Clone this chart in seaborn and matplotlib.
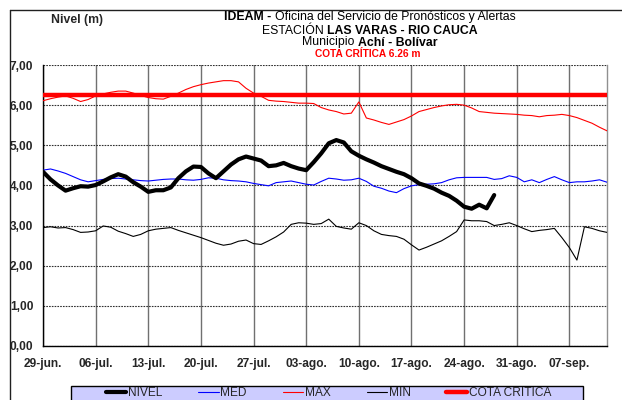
import matplotlib
matplotlib.use("Agg")
import matplotlib.pyplot as plt
from matplotlib.lines import Line2D
from matplotlib.patches import Rectangle
import seaborn as sns
import pandas as pd

# ---- data -------------------------------------------------------------
start_date = "2011-06-29"

nivel = [4.34, 4.15, 4.00, 3.87, 3.93, 3.98, 3.97, 4.01, 4.10, 4.20,
         4.28, 4.22, 4.08, 3.97, 3.84, 3.88, 3.88, 3.95, 4.18, 4.35,
         4.47, 4.46, 4.30, 4.18, 4.35, 4.52, 4.65, 4.72, 4.67, 4.62,
         4.48, 4.50, 4.56, 4.48, 4.42, 4.38, 4.58, 4.80, 5.05, 5.13,
         5.07, 4.85, 4.74, 4.65, 4.57, 4.48, 4.41, 4.34, 4.28, 4.18,
         4.05, 3.99, 3.92, 3.82, 3.74, 3.62, 3.47, 3.42, 3.52, 3.43,
         3.76]

med = [4.38, 4.41, 4.36, 4.30, 4.22, 4.14, 4.09, 4.12, 4.15, 4.17,
       4.18, 4.16, 4.14, 4.12, 4.11, 4.13, 4.15, 4.16, 4.16, 4.14,
       4.13, 4.15, 4.19, 4.18, 4.14, 4.12, 4.11, 4.09, 4.05, 4.02,
       3.99, 4.07, 4.09, 4.11, 4.07, 4.03, 4.01, 4.10, 4.18, 4.16,
       4.13, 4.14, 4.18, 4.10, 3.98, 3.93, 3.86, 3.82, 3.92, 3.99,
       4.02, 4.03, 4.04, 4.07, 4.14, 4.19, 4.20, 4.20, 4.20, 4.20,
       4.15, 4.17, 4.24, 4.20, 4.09, 4.14, 4.07, 4.15, 4.22, 4.14,
       4.07, 4.09, 4.09, 4.11, 4.14, 4.08]

maximo = [6.11, 6.16, 6.20, 6.23, 6.17, 6.09, 6.14, 6.23, 6.28, 6.32,
          6.35, 6.35, 6.30, 6.24, 6.19, 6.16, 6.15, 6.22, 6.30, 6.39,
          6.46, 6.51, 6.55, 6.58, 6.61, 6.61, 6.58, 6.42, 6.30, 6.22,
          6.12, 6.10, 6.09, 6.07, 6.05, 6.05, 6.04, 5.94, 5.88, 5.84,
          5.78, 5.80, 6.08, 5.68, 5.63, 5.57, 5.52, 5.58, 5.64, 5.73,
          5.84, 5.89, 5.94, 5.98, 6.01, 6.02, 6.00, 5.93, 5.84, 5.82,
          5.80, 5.79, 5.78, 5.77, 5.75, 5.74, 5.71, 5.74, 5.75, 5.77,
          5.74, 5.69, 5.62, 5.55, 5.45, 5.36]

minimo = [2.95, 2.97, 2.94, 2.95, 2.90, 2.83, 2.84, 2.87, 2.99, 2.96,
          2.86, 2.80, 2.73, 2.78, 2.87, 2.91, 2.93, 2.95, 2.88, 2.82,
          2.76, 2.70, 2.63, 2.56, 2.51, 2.54, 2.61, 2.64, 2.55, 2.53,
          2.62, 2.72, 2.84, 3.03, 3.07, 3.06, 3.03, 3.05, 3.16, 2.98,
          2.94, 2.91, 3.07, 3.00, 2.87, 2.78, 2.75, 2.73, 2.66, 2.52,
          2.39, 2.46, 2.54, 2.62, 2.73, 2.85, 3.14, 3.12, 3.12, 3.10,
          3.00, 3.03, 3.07, 3.00, 2.92, 2.85, 2.88, 2.90, 2.93, 2.70,
          2.45, 2.14, 2.97, 2.93, 2.87, 2.83]

cota_critica = 6.26

x_tick_labels = ["29-jun.", "06-jul.", "13-jul.", "20-jul.", "27-jul.", "03-ago.",
                 "10-ago.", "17-ago.", "24-ago.", "31-ago.", "07-sep."]
y_tick_labels = ["0,00", "1,00", "2,00", "3,00", "4,00", "5,00", "6,00", "7,00"]

# ---- frames -----------------------------------------------------------
fechas = pd.date_range(start_date, periods=len(med), freq="D")
hist = pd.DataFrame({"fecha": fechas, "MED": med, "MAX": maximo, "MIN": minimo})
obs = pd.DataFrame({"fecha": fechas[:len(nivel)], "NIVEL": nivel})

sns.set_style("white")
plt.rcParams["font.family"] = ["Liberation Sans", "DejaVu Sans"]

W, H = 622, 400
fig = plt.figure(figsize=(W / 100, H / 100), dpi=100)
ax = fig.add_axes([43 / W, 54 / H, 564 / W, 281 / H])

sns.lineplot(data=hist, x="fecha", y="MED", color="#0000ff", lw=0.8,
             ax=ax, label="MED", zorder=3)
sns.lineplot(data=hist, x="fecha", y="MAX", color="#ff0000", lw=0.8,
             ax=ax, label="MAX", zorder=3)
sns.lineplot(data=hist, x="fecha", y="MIN", color="#000000", lw=0.8,
             ax=ax, label="MIN", zorder=3)
ax.axhline(cota_critica, color="#ff0000", lw=3.2, label="COTA CRITICA", zorder=4)
sns.lineplot(data=obs, x="fecha", y="NIVEL", color="#000000", lw=3.0,
             ax=ax, label="NIVEL", zorder=5)

ax.set_xlim(fechas[0], fechas[-1])
ax.set_ylim(0, 7)
ax.set_xticks(fechas[::7][:len(x_tick_labels)])
ax.set_xticklabels(x_tick_labels, fontsize=8.6, fontweight="bold")
ax.set_yticks(range(len(y_tick_labels)))
ax.set_yticklabels(y_tick_labels, fontsize=8.6, fontweight="bold")
ax.set_xlabel("")
ax.set_ylabel("")

ax.grid(axis="x", color="#707070", lw=1.0, ls="-", zorder=1)
ax.grid(axis="y", color="#303030", lw=0.8, ls=(0, (1.5, 1.0)), zorder=1)
ax.set_axisbelow(True)
ax.tick_params(axis="x", length=3, width=1, pad=6, direction="out", color="black")
ax.tick_params(axis="y", length=4, width=1, pad=3, direction="out", color="black")

for side in ("left", "bottom"):
    ax.spines[side].set_color("black")
    ax.spines[side].set_linewidth(1.0)
ax.spines["right"].set_color("#909090")
ax.spines["right"].set_linewidth(1.0)
ax.spines["top"].set_visible(False)

# ---- legend -----------------------------------------------------------
ax.get_legend().remove()
handles, labels = ax.get_legend_handles_labels()
orden = ["NIVEL", "MED", "MAX", "MIN", "COTA CRITICA"]
pares = dict(zip(labels, handles))

# lavender band behind the legend, running off the bottom edge
fig.add_artist(Rectangle((71 / W, -20 / H), 512 / W, 34 / H,
                         transform=fig.transFigure, facecolor="#ccccff",
                         edgecolor="black", lw=1.0, zorder=1))
leg = fig.legend([pares[k] for k in orden], orden, loc="center",
                 bbox_to_anchor=(328.5 / W, 7 / H), ncol=5, frameon=False,
                 fontsize=8.6, handlelength=1.7, handletextpad=0.15,
                 borderpad=0.2, borderaxespad=0, columnspacing=3.0)
leg.set_zorder(3)

# ---- outer frame ------------------------------------------------------
fig.add_artist(Line2D([9.5 / W, 9.5 / W], [0, 1 - 9.5 / H],
                      transform=fig.transFigure, color="#202020", lw=1.0))
fig.add_artist(Line2D([9.5 / W, 1], [1 - 9.5 / H, 1 - 9.5 / H],
                      transform=fig.transFigure, color="#202020", lw=1.0))

# ---- header texts -----------------------------------------------------
renderer = fig.canvas.get_renderer()


def text_width(s, size, weight):
    t = fig.text(0, 0, s, fontsize=size, fontweight=weight)
    w = t.get_window_extent(renderer).width
    t.remove()
    return w


def mixed_line(y_px, pieces, xc_px, size=8.8, color="black"):
    space = text_width("a a", size, "normal") - text_width("aa", size, "normal")
    widths = [text_width(s, size, w) for s, w in pieces]
    total = sum(widths) + space * (len(pieces) - 1)
    x = xc_px - total / 2
    for (s, w), wd in zip(pieces, widths):
        fig.text(x / W, 1 - y_px / H, s, fontsize=size, fontweight=w,
                 color=color, ha="left", va="center")
        x += wd + space


fig.text(51 / W, 1 - 20.5 / H, "Nivel (m)", fontsize=8.8, fontweight="bold",
         ha="left", va="center")
mixed_line(17, [("IDEAM -", "bold"),
                ("Oficina del Servicio de Pronósticos y Alertas", "normal")], 370)
mixed_line(30.5, [("ESTACIÓN", "normal"), ("LAS VARAS - RIO CAUCA", "bold")], 370)
mixed_line(42.5, [("Municipio", "normal"), ("Achí - Bolívar", "bold")], 370)
mixed_line(54, [("COTA CRÍTICA 6.26 m", "bold")], 368, size=7.3, color="#ff0000")

fig.savefig("out.png", dpi=100)
